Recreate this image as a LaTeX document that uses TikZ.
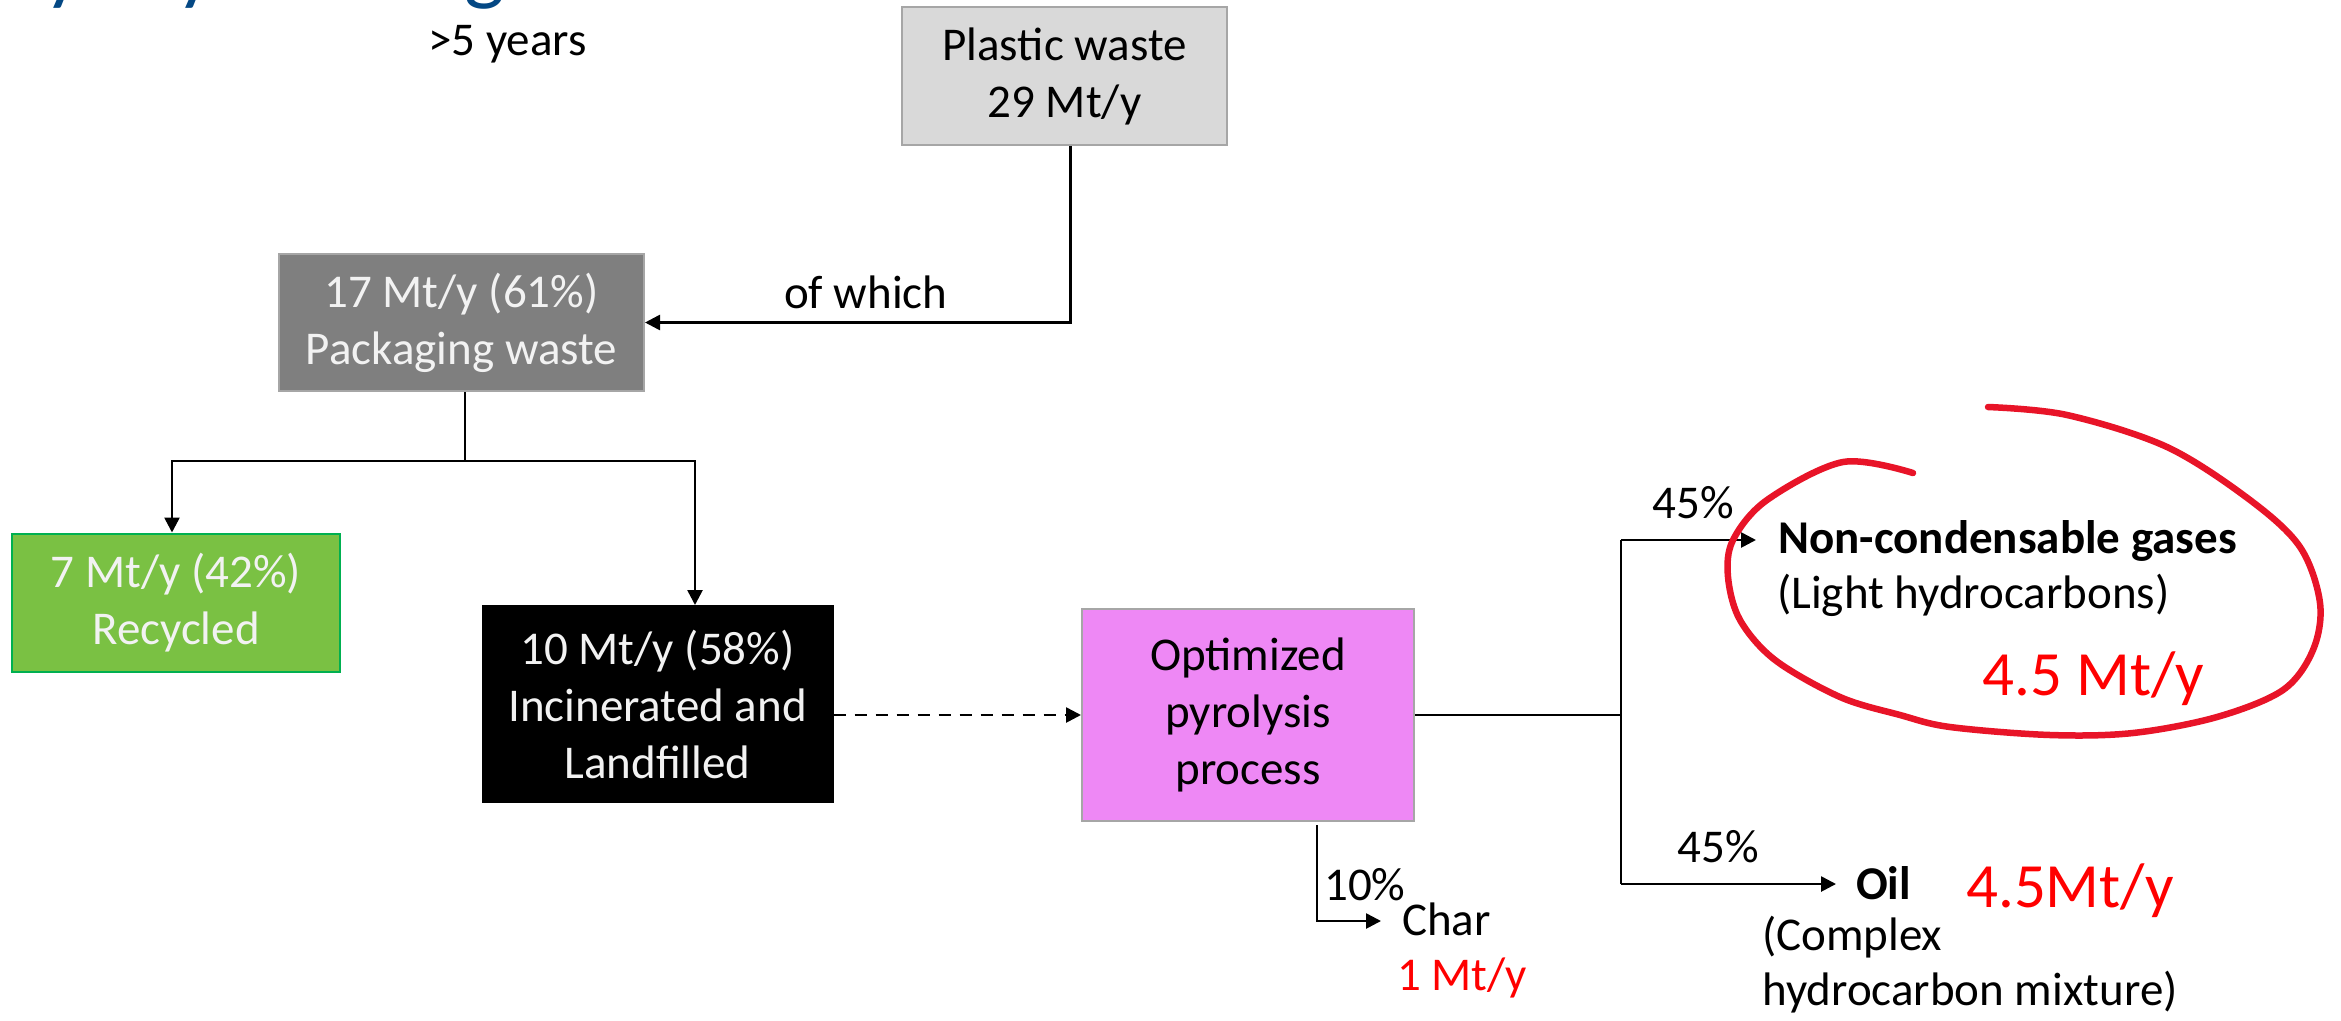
\documentclass[tikz,border=0pt]{standalone}
\usepackage{fontspec}
\setmainfont{Carlito}
\usetikzlibrary{arrows.meta}
\definecolor{plasticfill}{RGB}{217,217,217}
\definecolor{boxborder}{RGB}{166,166,166}
\definecolor{packfill}{RGB}{127,127,127}
\definecolor{recfill}{RGB}{122,193,67}
\definecolor{recborder}{RGB}{0,176,80}
\definecolor{pyrofill}{RGB}{238,136,245}
\definecolor{whitetext}{RGB}{242,242,242}
\definecolor{markred}{RGB}{232,20,40}
\definecolor{valred}{RGB}{255,0,0}
\definecolor{titleblue}{RGB}{4,72,132}
\begin{document}
\begin{tikzpicture}[x=1pt,y=-1pt,
  font=\fontsize{47}{57}\selectfont,
  flowbox/.style={draw, line width=2pt, inner sep=0pt, align=center},
  conn/.style={line width=2.6pt},
  arr/.style={conn, -{Triangle[length=15pt,width=15pt]}},
  lbl/.style={inner sep=0pt, anchor=base west},
  bigred/.style={lbl, text=valred, font=\fontsize{63}{70}\selectfont}]
\useasboundingbox (0,0) rectangle (2341,1020);
\fill[white] (0,0) rectangle (2341,1020);

% cut-off title (only its descenders are visible, as in the reference)
\node[lbl, text=titleblue, font=\fontsize{86}{100}\selectfont] (title) at (-1,-6) {Pyrolysis using};

\node[lbl] (years) at (428,55) {>5 years};

% boxes
\node[flowbox, fill=plasticfill, draw=boxborder, minimum width=325pt, minimum height=138pt] (plastic) at (1064.5,76) {Plastic waste\\29 Mt/y};
\node[flowbox, fill=packfill, draw=boxborder, text=whitetext, minimum width=365pt, minimum height=137pt] (pack) at (461.5,322.5) {17 Mt/y (61\%)\\Packaging waste};
\node[flowbox, fill=recfill, draw=recborder, text=whitetext, minimum width=328pt, minimum height=138pt] (rec) at (176,602.5) {7 Mt/y (42\%)\\Recycled};
\node[flowbox, fill=black, draw=black, text=whitetext, minimum width=350pt, minimum height=196pt] (incin) at (657.5,704) {10 Mt/y (58\%)\\Incinerated and\\Landfilled};
\node[flowbox, fill=pyrofill, draw=boxborder, minimum width=332pt, minimum height=212pt] (pyro) at (1248,715) {Optimized\\pyrolysis\\process};

% plastic -> packaging
\draw[arr] ([xshift=6pt]plastic.south) |- (pack.east);
\node[lbl] (ofwhich) at (784,308) {of which};

% packaging split
\coordinate (split) at (465,461);
\coordinate (recturn) at (172,461);
\coordinate (incturn) at (695,461);
\draw[conn] ([xshift=3.5pt]pack.south) -- (split);
\draw[arr] (split) -- (recturn) -- (recturn |- rec.north);
\draw[arr] (split) -- (incturn) -- (incturn |- incin.north);

% incinerated -> pyrolysis
\draw[conn, dash pattern=on 12pt off 9pt, -{Triangle[length=15pt,width=15pt]}] (incin.east |- pyro.west) -- (pyro.west);

% pyrolysis outputs
\coordinate (junc) at (1621,715);
\coordinate (gasturn) at (1621,540);
\coordinate (oilturn) at (1621,884);
\coordinate (gasend) at (1756,540);
\coordinate (oilend) at (1836,884);
\draw[conn] (pyro.east) -- (junc);
\draw[conn] (gasturn) -- (oilturn);
\draw[arr] (gasturn) -- (gasend);
\draw[arr] (oilturn) -- (oilend);

\node[anchor=center, inner sep=0pt] (pgas) at (1693,503) {45\%};
\node[lbl, font=\fontsize{47}{57}\selectfont\bfseries] (gas) at (1778,553) {Non-condensable gases};
\node[lbl] (light) at (1777,608) {(Light hydrocarbons)};
\node[bigred] (gasval) at (1982,695) {4.5 Mt/y};

\node[anchor=center, inner sep=0pt] (poil) at (1718,847) {45\%};
\node[lbl, font=\fontsize{47}{57}\selectfont\bfseries] (oil) at (1856,899) {Oil};
\node[bigred] (oilval) at (1966,907) {4.5Mt/y};
\node[lbl] (complex) at (1762,950) {(Complex};
\node[lbl] (mixture) at (1762,1005) {hydrocarbon mixture)};

% char
\coordinate (charend) at (1381,921);
\draw[arr] ([xshift=69pt,yshift=-3pt]pyro.south) |- (charend);
\node[lbl] (pchar) at (1324,900) {10\%};
\node[lbl] (char) at (1402,935) {Char};
\node[lbl, text=valred] (charval) at (1397,990) {1 Mt/y};

% red hand-drawn mark
\draw[markred, line width=6.5pt, line cap=round, line join=round]
  plot[smooth, tension=0.55] coordinates {(1913,473) (1843,462) (1767,500) (1733,540) (1728,577) (1740,620) (1775,660) (1840,697) (1900,715) (1950,727) (2050,735) (2133,733) (2217,717) (2283,690) (2313,650) (2320,603) (2300,547) (2250,500) (2167,447) (2067,415) (1988,407)};
\end{tikzpicture}
\end{document}
